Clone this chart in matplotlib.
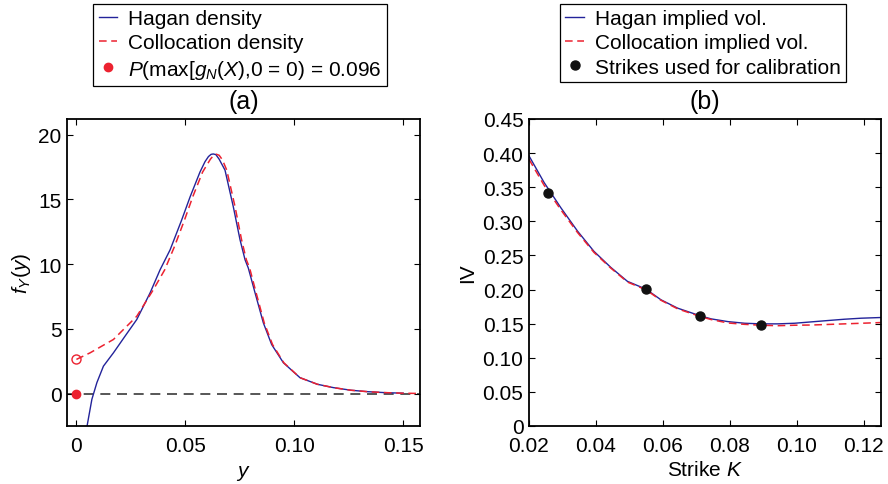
import numpy as np
import matplotlib
matplotlib.use('Agg')
import matplotlib.pyplot as plt

plt.rcParams['font.family'] = ['Liberation Sans', 'DejaVu Sans']
plt.rcParams['mathtext.fontset'] = 'custom'
plt.rcParams['mathtext.rm'] = 'Liberation Sans'
plt.rcParams['mathtext.it'] = 'Liberation Sans:italic'
plt.rcParams['font.size'] = 15

# (a) densities
y_hagan = [0.0049, 0.0071, 0.0094, 0.0124, 0.0170, 0.0223, 0.0277, 0.0338, 0.0384, 0.0430,
           0.0483, 0.0522, 0.0567, 0.0590, 0.0606, 0.0618, 0.0628, 0.0640, 0.0655, 0.0682,
           0.0720, 0.0751, 0.0774, 0.0789, 0.0820, 0.0858, 0.0896, 0.0950, 0.1026, 0.1106,
           0.1180, 0.1260, 0.1336, 0.1410, 0.1500]
f_hagan = [-2.49, -0.44, 0.85, 2.12, 3.15, 4.43, 5.72, 7.77, 9.56, 11.1,
           13.4, 15.2, 17.1, 17.9, 18.3, 18.47, 18.5, 18.45, 18.1, 17.25,
           14.43, 11.87, 10.33, 9.69, 7.77, 5.46, 3.79, 2.38, 1.23, 0.72,
           0.46, 0.26, 0.15, 0.08, 0.03]
y_coll = [0.0, 0.0063, 0.0170, 0.0277, 0.0353, 0.0405, 0.0450, 0.0496, 0.0534, 0.0579,
          0.0615, 0.0630, 0.0642, 0.0655, 0.0670, 0.0690, 0.0728, 0.0758, 0.0780, 0.0795,
          0.0825, 0.0862, 0.0900, 0.0952, 0.1026, 0.1106, 0.1180, 0.1260, 0.1336, 0.1410,
          0.1500, 0.1580]
f_coll = [2.64, 3.15, 4.18, 5.97, 8.02, 9.55, 11.35, 13.4, 15.2, 17.1,
          18.1, 18.4, 18.48, 18.4, 18.05, 17.25, 14.43, 11.87, 10.33, 9.69,
          7.77, 5.46, 3.79, 2.38, 1.23, 0.72, 0.46, 0.26, 0.15, 0.08,
          0.03, 0.01]
p_zero = 0.096

# (b) implied vols
k_hagan = [0.0200, 0.0245, 0.0295, 0.0345, 0.0394, 0.0444, 0.0494, 0.0549, 0.0594, 0.0644,
           0.0712, 0.0744, 0.0794, 0.0844, 0.0893, 0.0943, 0.0993, 0.1043, 0.1093, 0.1142,
           0.1192, 0.1250]
iv_hagan = [0.396, 0.357, 0.320, 0.2856, 0.256, 0.2326, 0.212, 0.2007, 0.185, 0.1727,
            0.1614, 0.157, 0.153, 0.1506, 0.1497, 0.1497, 0.1506, 0.1526, 0.1546, 0.1565,
            0.158, 0.159]
k_coll = [0.0200, 0.0245, 0.0295, 0.0345, 0.0394, 0.0444, 0.0494, 0.0549, 0.0594, 0.0644,
          0.0712, 0.0744, 0.0794, 0.0844, 0.0893, 0.0943, 0.0993, 0.1043, 0.1142, 0.1250]
iv_coll = [0.391, 0.353, 0.317, 0.2836, 0.2545, 0.2316, 0.211, 0.1997, 0.1843, 0.1717,
           0.1604, 0.156, 0.151, 0.149, 0.1477, 0.147, 0.1477, 0.148, 0.1497, 0.1516]
k_cal = [0.0257, 0.0549, 0.0712, 0.0893]
iv_cal = [0.342, 0.2007, 0.1614, 0.148]

fig = plt.figure(figsize=(8.88, 4.85), dpi=100)
ax1 = fig.add_axes([0.0755, 0.1196, 0.3975, 0.633])
ax2 = fig.add_axes([0.5957, 0.1196, 0.396, 0.633])

blue = '#23239a'
red = '#ec2230'

ax1.axhline(0, color='#3a3a3a', ls=(0, (6, 4)), lw=1.2, zorder=1)
ax1.plot(y_hagan, f_hagan, color=blue, lw=1.0, label='Hagan density')
ax1.plot(y_coll, f_coll, color=red, lw=1.1, ls=(0, (5, 3)), label='Collocation density')
ax1.plot([0], [f_coll[0]], 'o', mfc='none', mec=red, ms=6.5, mew=1.0)
ax1.plot([0], [0], 'o', color=red, ms=6, ls='none',
         label=r'$P$(max[$g_N$($X$),0 = 0) = ' + f'{p_zero:.3f}')
ax1.set_xlim(-0.0043, 0.1577)
ax1.set_ylim(-2.5, 21.2)
ax1.set_xticks([0, 0.05, 0.10, 0.15])
ax1.set_xticklabels(['0', '0.05', '0.10', '0.15'])
ax1.set_yticks([0, 5, 10, 15, 20])
ax1.set_xlabel(r'$y$', labelpad=6)
ax1.set_ylabel(r'$f_Y(y)$', labelpad=4)
ax1.set_title('(a)', pad=8)

ax2.plot(k_hagan, iv_hagan, color=blue, lw=1.0, label='Hagan implied vol.')
ax2.plot(k_coll, iv_coll, color=red, lw=1.1, ls=(0, (5, 3)), label='Collocation implied vol.')
ax2.plot(k_cal, iv_cal, 'o', color='#111111', ms=6.5, ls='none', label='Strikes used for calibration')
ax2.set_xlim(0.02, 0.125)
ax2.set_ylim(0, 0.45)
ax2.set_xticks([0.02, 0.04, 0.06, 0.08, 0.10, 0.12])
ax2.set_xticklabels(['0.02', '0.04', '0.06', '0.08', '0.10', '0.12'])
ax2.set_yticks(np.arange(0, 0.46, 0.05))
ax2.set_yticklabels(['0'] + [f'{v:.2f}' for v in np.arange(0.05, 0.46, 0.05)])
ax2.set_xlabel(r'Strike $K$', labelpad=4)
ax2.set_ylabel('IV', labelpad=4)
ax2.set_title('(b)', pad=8)

for ax in (ax1, ax2):
    ax.tick_params(direction='in', top=True, right=True, length=4.5, width=0.8, labelsize=15)
    ax.tick_params(axis='x', pad=7)
    ax.tick_params(axis='y', pad=4)
    for s in ax.spines.values():
        s.set_linewidth(1.3)

# legends sit above the panels, centred over each one
for ax, cx in ((ax1, 240 / 888), (ax2, 703 / 888)):
    leg = ax.legend(loc='upper center', bbox_to_anchor=(cx, 1 - 5 / 485),
                    bbox_transform=fig.transFigure, borderaxespad=0, fancybox=False,
                    edgecolor='black', framealpha=1, handlelength=0.9, handletextpad=0.5,
                    borderpad=0.25, labelspacing=0.25, fontsize=15)
    leg.get_frame().set_linewidth(0.9)

fig.savefig('out.png', dpi=100)
